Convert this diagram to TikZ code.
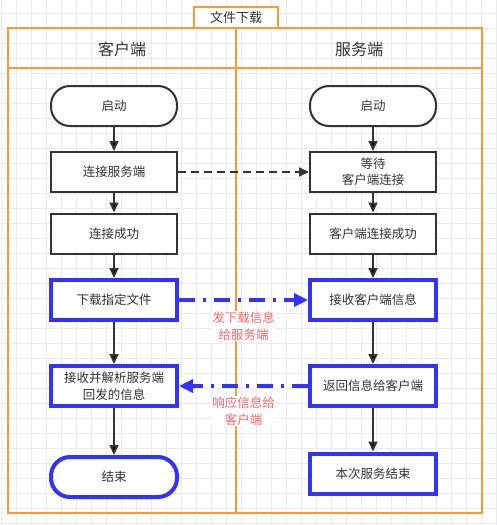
\documentclass[tikz,border=0pt]{standalone}
\usepackage{fontspec}
\setmainfont{Noto Sans CJK SC}
\usetikzlibrary{positioning,arrows.meta}
\definecolor{laneorange}{HTML}{FF9933}
\definecolor{boxblue}{HTML}{3333FF}
\definecolor{ink}{HTML}{333333}
\definecolor{msgpink}{HTML}{FF6666}
\definecolor{gridgray}{HTML}{EBEBEB}

\begin{document}
\begin{tikzpicture}[x=1pt,y=-1pt,node distance=66pt,on grid,
  font=\fontsize{12.5}{16.5}\selectfont,text=ink,
  gridline/.style={draw=gridgray,line width=1pt},
  lane/.style={draw=laneorange,line width=2pt},
  proc/.style={rectangle,draw=ink,line width=2pt,fill=white,minimum width=126pt,minimum height=40pt,align=center,inner sep=1pt},
  term/.style={proc,rounded corners=19pt},
  hot/.style={draw=boxblue,line width=4pt},
  flow/.style={draw=ink,line width=2pt,-{Triangle[length=10pt,width=9pt]}},
  link/.style={flow,dash pattern=on 8pt off 5pt},
  msgline/.style={draw=boxblue,line width=4pt,dash pattern=on 16pt off 8pt on 3pt off 8pt,-{Triangle[length=14pt,width=13pt]}},
  msg/.style={text=msgpink,fill=white,align=center,inner sep=1pt}]
 \useasboundingbox (0,0) rectangle (496,525);
 % background grid
 \foreach \gx in {1,16,...,496} \draw[gridline] (\gx,0) -- (\gx,525);
 \foreach \gy in {13,28,...,525} \draw[gridline] (0,\gy) -- (496,\gy);
 % swimlanes
 \draw[lane] (8,28) rectangle (482,513);
 \draw[lane] (8,68) -- (482,68);
 \draw[lane] (236,28) -- (236,513);
 \node[lane,fill=white,minimum width=84pt,minimum height=21pt,inner sep=0pt,font=\fontsize{13}{15}\selectfont] (title) at (236,17.5) {文件下载};
 \node[font=\fontsize{16}{18}\selectfont] (c_head) at (122,49) {客户端};
 \node[font=\fontsize{16}{18}\selectfont] (s_head) at (359,49) {服务端};
 % client side
 \node[term] (c_start) at (114,106) {启动};
 \node[proc] (c_conn) [below=of c_start] {连接服务端};
 \node[proc] (c_ok) [below=61.5pt of c_conn] {连接成功};
 \node[proc,hot] (c_down) [below=66.5pt of c_ok] {下载指定文件};
 \node[proc,hot] (c_recv) [below=86pt of c_down] {接收并解析服务端\\回发的信息};
 \node[term,hot] (c_end) [below=91pt of c_recv] {结束};
 % server side
 \node[term] (s_start) [right=259pt of c_start] {启动};
 \node[proc] (s_wait) [below=of s_start] {等待\\客户端连接};
 \node[proc] (s_ok) [below=61.5pt of s_wait] {客户端连接成功};
 \node[proc,hot] (s_recv) [below=66.5pt of s_ok] {接收客户端信息};
 \node[proc,hot] (s_back) [below=86pt of s_recv] {返回信息给客户端};
 \node[proc,hot] (s_done) [below=87.5pt of s_back] {本次服务结束};
 \path[flow]
 (c_start) edge (c_conn)
 (c_conn) edge (c_ok)
 (c_ok) edge (c_down)
 (c_down) edge (c_recv)
 (c_recv) edge (c_end)
 (s_start) edge (s_wait)
 (s_wait) edge (s_ok)
 (s_ok) edge (s_recv)
 (s_recv) edge (s_back)
 (s_back) edge (s_done)
 (c_conn) edge[link] (s_wait);
 \path
 (c_down) edge[msgline] node[msg,yshift=-26pt] {发下载信息\\给服务端} (s_recv)
 (s_back) edge[msgline] node[msg,yshift=-25pt] {响应信息给\\客户端} (c_recv);
\end{tikzpicture}
\end{document}
